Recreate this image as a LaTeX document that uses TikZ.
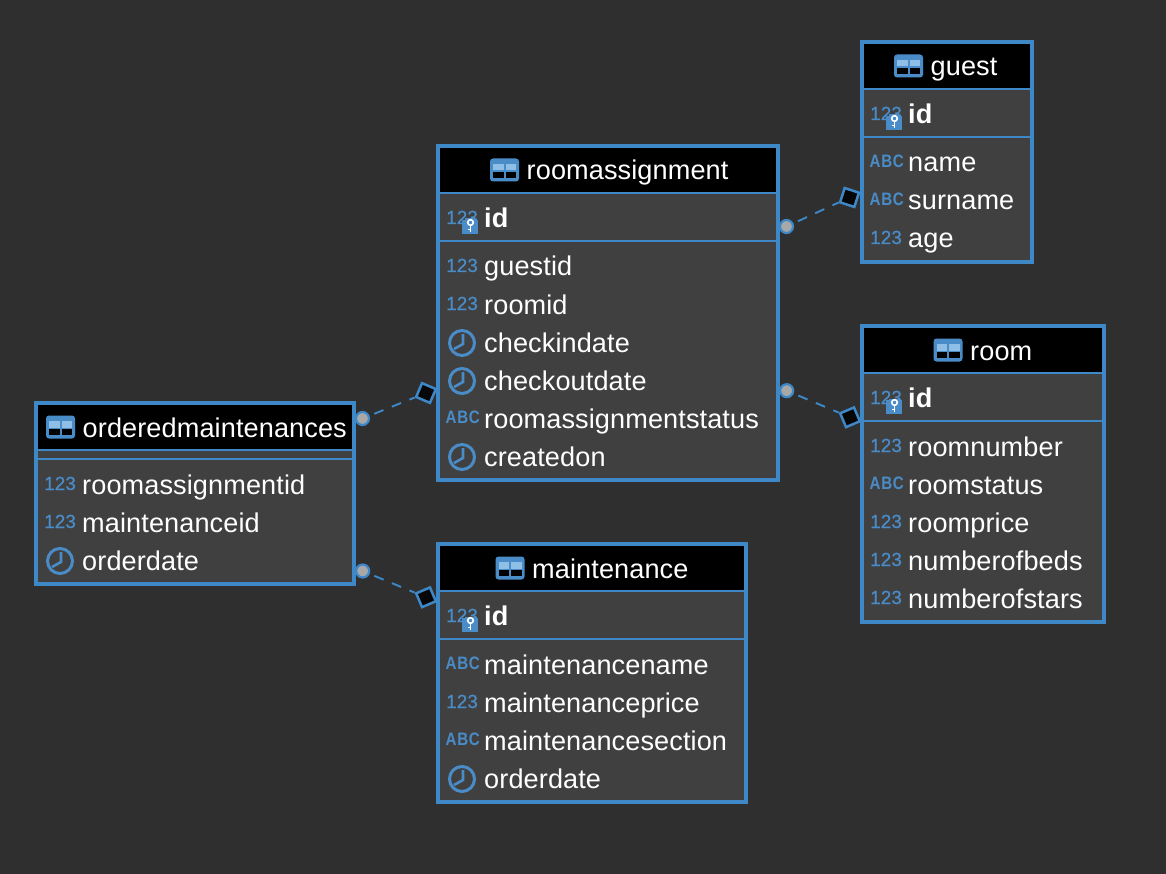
\documentclass[tikz,border=0pt]{standalone}
\usepackage{fontspec}
\setmainfont[LetterSpace=0.4]{Liberation Sans}
\newfontfamily\numfont[FakeBold=0.5]{Liberation Sans}
\newfontfamily\abcfont[FakeStretch=0.84,LetterSpace=4]{Liberation Sans}
\definecolor{bgc}{HTML}{2F2F2F}
\definecolor{cellc}{HTML}{404040}
\definecolor{edgec}{HTML}{3E88C8}
\definecolor{iconc}{HTML}{4A8CC8}
\definecolor{paleblue}{HTML}{8FBFE6}
\definecolor{dotc}{HTML}{A8A8A8}
\tikzset{
  tablebox/.style={draw=edgec,line width=3.6pt,fill=cellc,anchor=north west,inner sep=0pt,outer sep=0pt},
  sepline/.style={draw=edgec,line width=1.8pt},
  titletext/.style={text=white,anchor=base west,inner sep=0pt,font=\fontsize{27.1}{28}\selectfont},
  rowtext/.style={text=white,anchor=base west,inner sep=0pt,font=\fontsize{27.1}{28}\selectfont},
  idtext/.style={text=white,anchor=base west,inner sep=0pt,font=\fontsize{27.1}{28}\selectfont\bfseries},
  numicon/.style={text=iconc,anchor=base west,inner sep=0pt,font=\fontsize{19}{20}\selectfont\numfont},
  abcicon/.style={text=iconc,anchor=base west,inner sep=0pt,font=\fontsize{18}{19}\selectfont\abcfont\bfseries},
  clockicon/.style={circle,draw=iconc,line width=3pt,minimum size=25pt,inner sep=0pt},
  linkline/.style={draw=edgec,line width=1.9pt,dash pattern=on 10pt off 9pt,dash phase=14pt},
  dotend/.style={circle,draw=edgec,fill=dotc,line width=2.2pt,minimum size=13pt,inner sep=0pt},
  diamondend/.style={rectangle,draw=edgec,fill=black!85!bgc,line width=2.5pt,minimum size=15pt,inner sep=0pt},
}
% table frame: name, x0, y0, x1, y1, y of header bottom, y of key row bottom
\newcommand{\tableframe}[7]{%
  \node[tablebox,minimum width=#4pt-#2pt,minimum height=#5pt-#3pt] (#1) at (#2,#3) {};
  \fill[black] (#2+1.8,#3+1.8) rectangle (#4-1.8,#6);
  \draw[sepline] (#2+1.8,#6) -- (#4-1.8,#6);
  \draw[sepline] (#2+1.8,#7) -- (#4-1.8,#7);
}
% table glyph at centre
\newcommand{\tableglyph}[2]{%
  \fill[iconc,rounded corners=3pt] (#1-14.5,#2-11.5) rectangle (#1+14.5,#2+11.5);
  \fill[paleblue] (#1-11.5,#2-6) rectangle (#1-1,#2+0.5);
  \fill[paleblue] (#1+1,#2-6) rectangle (#1+11.5,#2+0.5);
  \fill[black] (#1-11.5,#2+2.2) rectangle (#1-1,#2+8);
  \fill[black] (#1+1,#2+2.2) rectangle (#1+11.5,#2+8);
}
\newcommand{\titlerow}[4]{% name, glyph centre x, centre y, text
  \tableglyph{#2}{#3}
  \node[titletext] (#1) at (#2+22,#3+10) {#4};
}
\newcommand{\numrow}[4]{% name, table x0, row y, text
  \node[numicon] (#1i) at (#2+8,#3+5) {123};
  \node[rowtext] (#1) at (#2+46,#3+9) {#4};
}
\newcommand{\abcrow}[4]{%
  \node[abcicon] (#1i) at (#2+7.5,#3+4.5) {ABC};
  \node[rowtext] (#1) at (#2+46,#3+9) {#4};
}
\newcommand{\clockrow}[4]{%
  \node[clockicon] (#1i) at (#2+24,#3) {};
  \draw[iconc,line width=2.6pt] (#2+25,#3-9) -- (#2+25,#3+1) -- (#2+16,#3+6);
  \node[rowtext] (#1) at (#2+46,#3+9) {#4};
}
\newcommand{\keyrow}[3]{% name, table x0, row y
  \node[numicon] (#1i) at (#2+8,#3+7) {123};
  \fill[iconc] (#2+24,#3+3) rectangle (#2+40,#3+17);
  \fill[iconc] (#2+27,#3+1.5) rectangle (#2+37,#3+4);
  \draw[white,line width=1.6pt] (#2+32.5,#3+5.5) circle (2.8);
  \draw[white,line width=1.6pt] (#2+32.5,#3+8.3) -- (#2+32.5,#3+15) (#2+32.5,#3+12.5) -- (#2+29.5,#3+12.5);
  \node[idtext] (#1) at (#2+46,#3+10.5) {id};
}
\begin{document}
\begin{tikzpicture}[x=1pt,y=-1pt]
\useasboundingbox (0,0) rectangle (1166,874);
\fill[bgc] (0,0) rectangle (1166,874);

% guest
\tableframe{guest}{862}{42}{1032}{262}{89}{137}
\titlerow{guestt}{908.5}{66}{guest}
\keyrow{guestid}{862}{113}
\abcrow{guestname}{862}{163}{name}
\abcrow{guestsurname}{862}{201}{surname}
\numrow{guestage}{862}{239}{age}

% roomassignment
\tableframe{ra}{438}{146}{778}{480}{193}{241}
\titlerow{rat}{504.5}{170}{roomassignment}
\keyrow{raid}{438}{217}
\numrow{ragid}{438}{267}{guestid}
\numrow{rarid}{438}{305}{roomid}
\clockrow{racin}{438}{343}{checkindate}
\clockrow{racout}{438}{381}{checkoutdate}
\abcrow{rastat}{438}{419}{roomassignmentstatus}
\clockrow{racre}{438}{457}{createdon}

% room
\tableframe{room}{862}{326}{1104}{622}{373}{421}
\titlerow{roomt}{948}{350}{room}
\keyrow{roomid}{862}{397}
\numrow{roomnum}{862}{447}{roomnumber}
\abcrow{roomstat}{862}{485}{roomstatus}
\numrow{roompr}{862}{523}{roomprice}
\numrow{roombeds}{862}{561}{numberofbeds}
\numrow{roomstars}{862}{599}{numberofstars}

% orderedmaintenances
\tableframe{om}{36}{403}{354}{584}{450}{459}
\titlerow{omt}{60.5}{427}{orderedmaintenances}
\numrow{omra}{36}{485}{roomassignmentid}
\numrow{omm}{36}{523}{maintenanceid}
\clockrow{omd}{36}{561}{orderdate}

% maintenance
\tableframe{mt}{438}{544}{746}{802}{591}{639}
\titlerow{mtt}{510}{568}{maintenance}
\keyrow{mtid}{438}{615}
\abcrow{mtname}{438}{665}{maintenancename}
\numrow{mtprice}{438}{703}{maintenanceprice}
\abcrow{mtsec}{438}{741}{maintenancesection}
\clockrow{mtd}{438}{779}{orderdate}

% connector ends
\node[dotend] (d1) at (786.5,226.5) {};
\node[diamondend,rotate=-18] (e1) at (849.5,197.5) {};
\node[dotend] (d2) at (786.7,390.7) {};
\node[diamondend,rotate=23] (e2) at (850,417.3) {};
\node[dotend] (d3) at (362.5,418.5) {};
\node[diamondend,rotate=-23] (e3) at (426,393) {};
\node[dotend] (d4) at (362.7,571) {};
\node[diamondend,rotate=23] (e4) at (426,597.3) {};
\draw[linkline] (d1) -- (e1);
\draw[linkline] (d2) -- (e2);
\draw[linkline] (d3) -- (e3);
\draw[linkline] (d4) -- (e4);
\end{tikzpicture}
\end{document}
